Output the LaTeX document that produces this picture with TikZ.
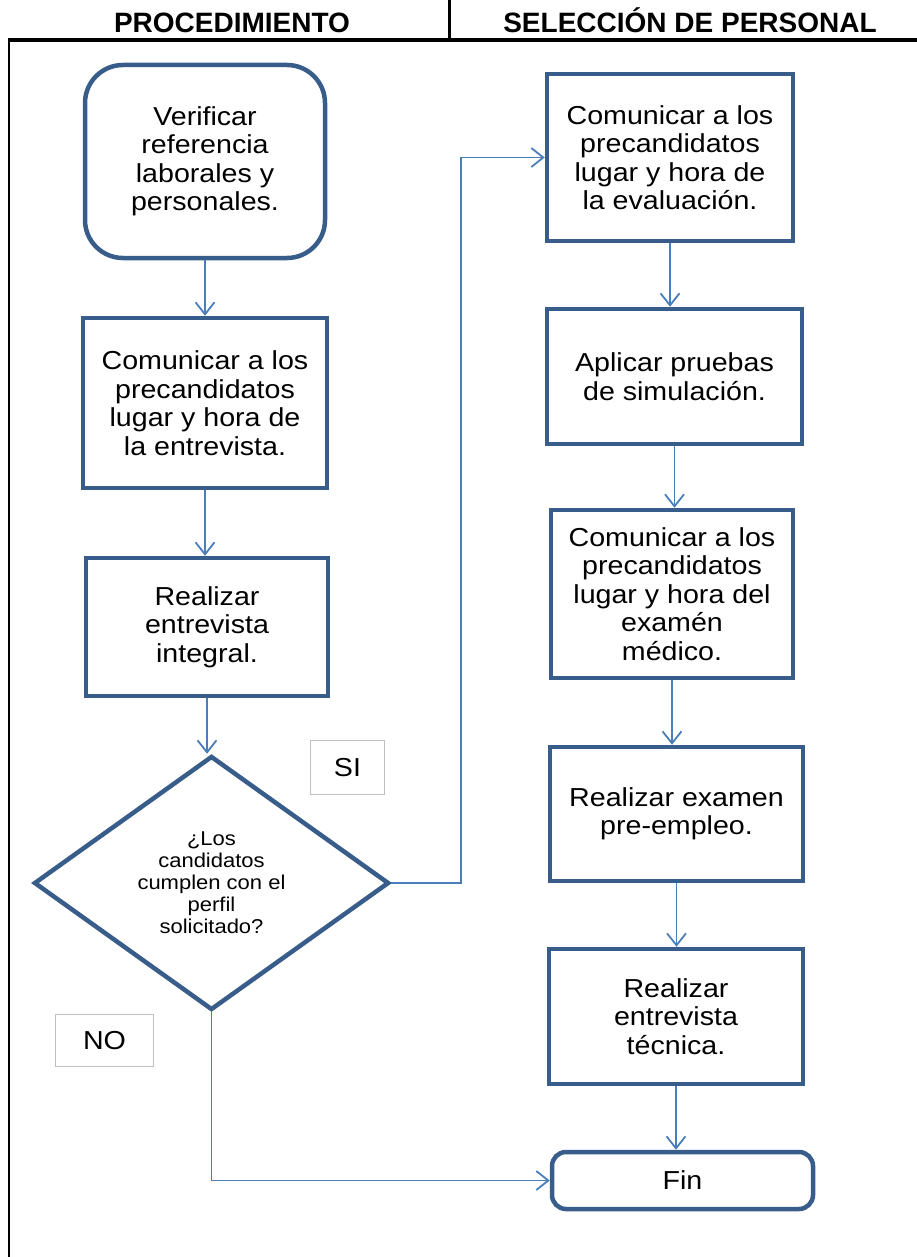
\documentclass[tikz,border=0pt]{standalone}
\usepackage{fontspec}
\setmainfont{Liberation Sans}
\newfontfamily\ancha[FakeStretch=1.1]{Liberation Sans}
\usetikzlibrary{shapes.geometric,arrows.meta,positioning}

\definecolor{cajaazul}{RGB}{56,93,138}
\definecolor{flechaazul}{RGB}{74,126,187}

\begin{document}
\begin{tikzpicture}[x=1pt,y=-1pt,
    paso/.style={draw=cajaazul,line width=4.5pt,align=center,inner sep=0pt,font=\ancha\fontsize{26}{28.5}\selectfont},
    redondo/.style={paso,rounded corners=38pt},
    decision/.style={diamond,aspect=1.4,draw=cajaazul,line width=4.5pt,align=center,inner sep=0pt,font=\ancha\fontsize{20}{22}\selectfont},
    opcion/.style={draw=black!25,line width=1.5pt,inner sep=0pt,font=\ancha\fontsize{26}{28}\selectfont},
    titulo/.style={anchor=base,font=\bfseries\fontsize{28}{32}\selectfont},
    flecha/.style={flechaazul,line width=1.8pt,-{Straight Barb[length=12pt,width=19pt]}}]
    \useasboundingbox (0,0) rectangle (917,1257);

    \node[titulo] (proc)  at (232,33) {PROCEDIMIENTO};
    \node[titulo] (selec) at (690,33) {SELECCIÓN DE PERSONAL};
    \draw[line width=3.5pt] (8,40) -- (917,40);
    \draw[line width=3pt] (449,0) -- (449,40);
    \draw[line width=2.5pt] (9,38) -- (9,1257);

    \node[redondo,minimum width=240pt,minimum height=193pt] (verificar) at (205,161.5)
        {Verificar\\referencia\\laborales y\\personales.};
    \node[paso,minimum width=244pt,minimum height=170pt] (citar) at (205,403)
        {Comunicar a los\\precandidatos\\lugar y hora de\\la entrevista.};
    \node[paso,minimum width=242pt,minimum height=138pt] (entrevista) at (207,627)
        {Realizar\\entrevista\\integral.};
    \node[decision,minimum width=355pt,minimum height=254pt] (perfil) at (211.5,883)
        {¿Los\\candidatos\\cumplen con el\\perfil\\solicitado?};
    \node[opcion,minimum width=74pt,minimum height=54pt] (si) at (347.5,767.5) {SI};
    \node[opcion,minimum width=98pt,minimum height=52pt] (no) at (104.5,1040.5) {NO};

    \node[paso,minimum width=246pt,minimum height=167pt] (evaluacion) at (670,157.5)
        {Comunicar a los\\precandidatos\\lugar y hora de\\la evaluación.};
    \node[paso,minimum width=255pt,minimum height=135pt] (pruebas) at (674.5,376.5)
        {Aplicar pruebas\\de simulación.};
    \node[paso,minimum width=242pt,minimum height=168pt] (medico) at (672,594)
        {Comunicar a los\\precandidatos\\lugar y hora del\\examén\\médico.};
    \node[paso,minimum width=253pt,minimum height=134pt] (examen) at (676.5,814)
        {Realizar examen\\pre-empleo.};
    \node[paso,minimum width=254pt,minimum height=135pt] (tecnica) at (676,1016.5)
        {Realizar\\entrevista\\técnica.};
    \node[redondo,rounded corners=14pt,minimum width=261pt,minimum height=57pt] (fin) at (682.5,1180.5)
        {Fin};

    \path[flecha]
        (verificar.south) edge (verificar.south |- citar.north)
        (citar.south) edge (citar.south |- entrevista.north)
        (entrevista.south) edge (entrevista.south |- perfil.north)
        (evaluacion.south) edge (evaluacion.south |- pruebas.north)
        (pruebas.south) edge (pruebas.south |- medico.north)
        (medico.south) edge (medico.south |- examen.north)
        (examen.south) edge (examen.south |- tecnica.north)
        (tecnica.south) edge (tecnica.south |- fin.north);
    \draw[flecha] (perfil.east) -- ++(70,0) |- (evaluacion.west);
    \draw[flecha] (perfil.south) |- (fin.west);
\end{tikzpicture}
\end{document}
